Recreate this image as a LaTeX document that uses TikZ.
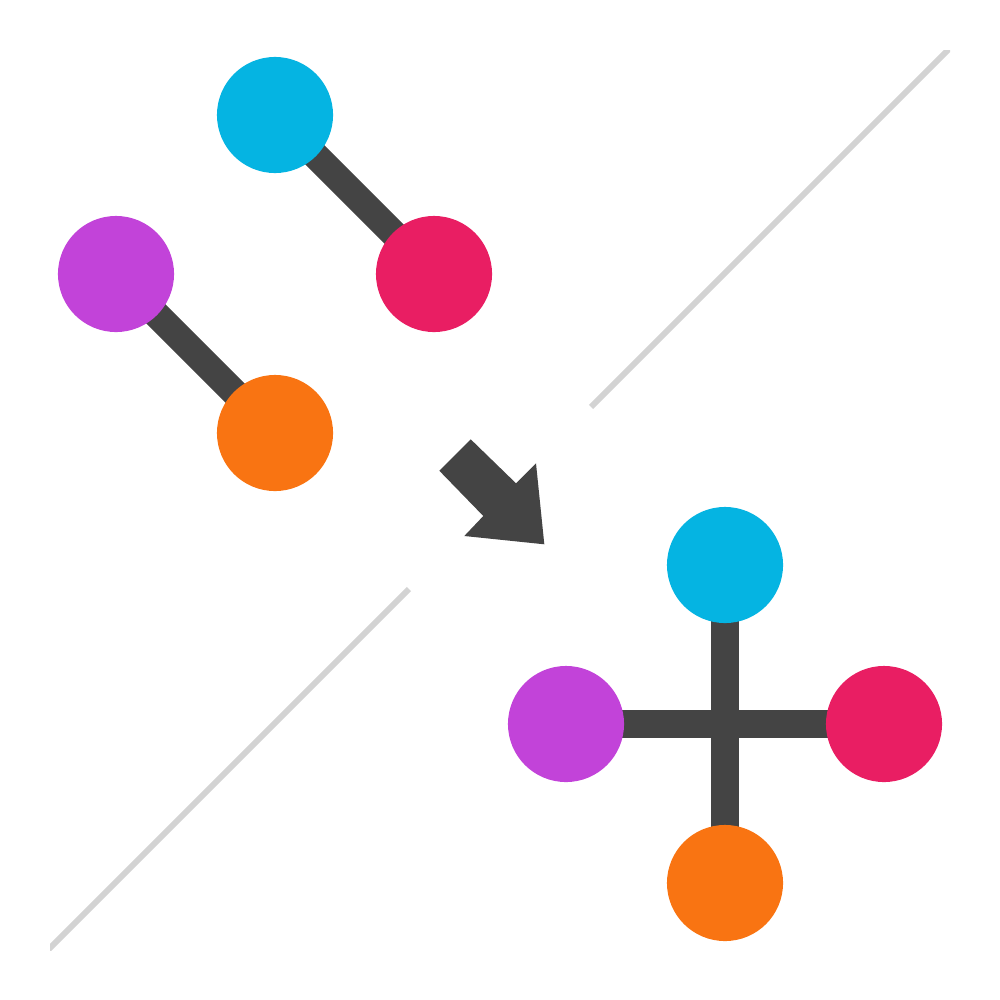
\documentclass[tikz,border=0pt]{standalone}
\usetikzlibrary{backgrounds}
\definecolor{cyanc}{HTML}{05B4E2}
\definecolor{redc}{HTML}{E91E63}
\definecolor{purc}{HTML}{C243D9}
\definecolor{orac}{HTML}{F97412}
\definecolor{darkc}{HTML}{444444}
\definecolor{grayc}{HTML}{D3D3D3}
\begin{document}
\begin{tikzpicture}[x=0.01cm,y=-0.01cm,
  ball/.style={circle,minimum size=1.16cm,inner sep=0pt,draw=none},
  link/.style={draw=darkc,line width=7.7pt},
  divider/.style={draw=grayc,line width=1.7pt}]
\useasboundingbox (0,0) rectangle (1000,1000);
% divider
\begin{scope}
\clip (50,50) rectangle (950,950);
\coordinate (d1a) at (591,407);
\coordinate (d1b) at (960,38);
\coordinate (d2a) at (409,589);
\coordinate (d2b) at (38,960);
\draw[divider] (d1a) -- (d1b);
\draw[divider] (d2a) -- (d2b);
\end{scope}
% top-left molecules
\node[ball,fill=cyanc] (c1) at (275,115) {};
\node[ball,fill=redc] (r1) at (434,274) {};
\node[ball,fill=purc] (p1) at (116,274) {};
\node[ball,fill=orac] (o1) at (275,433) {};
% bottom-right molecule
\node[ball,fill=cyanc] (c2) at (725,565) {};
\node[ball,fill=purc] (p2) at (566,724) {};
\node[ball,fill=redc] (r2) at (884,724) {};
\node[ball,fill=orac] (o2) at (725,883) {};
\begin{scope}[on background layer]
\fill[white] (0,0) rectangle (1000,1000);
\draw[link] (c1.center) -- (r1.center);
\draw[link] (p1.center) -- (o1.center);
\draw[link] (c2.center) -- (o2.center);
\draw[link] (p2.center) -- (r2.center);
\end{scope}
% arrow
\fill[darkc] (439.3,470.7) -- (470.7,439.3) -- (516,483.3) -- (536,463.3)
  -- (544.3,544.3) -- (464.3,536) -- (483.3,516) -- cycle;
\end{tikzpicture}
\end{document}
